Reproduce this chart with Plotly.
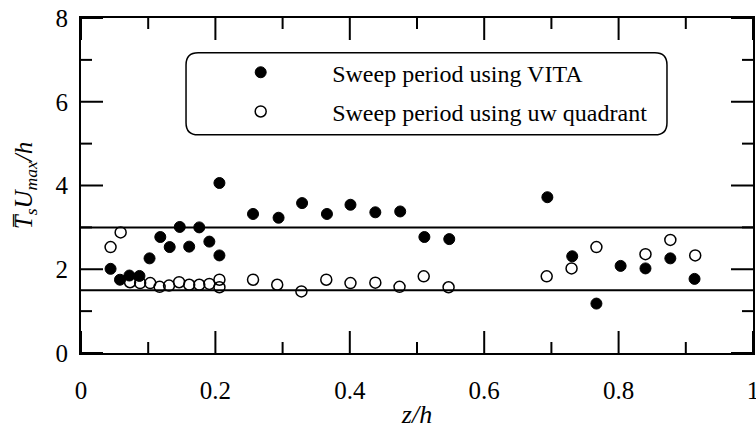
import plotly.graph_objects as go

# Sweep period using VITA (filled)
vita_x = [0.044, 0.058, 0.072, 0.087, 0.102, 0.118, 0.132, 0.147, 0.161, 0.176, 0.191, 0.206, 0.206,
          0.256, 0.294, 0.329, 0.366, 0.401, 0.438, 0.475, 0.511, 0.548, 0.694,
          0.731, 0.767, 0.803, 0.840, 0.877, 0.913]
vita_y = [2.01, 1.75, 1.85, 1.84, 2.26, 2.77, 2.53, 3.01, 2.54, 3.00, 2.66, 2.33, 4.06,
          3.32, 3.23, 3.58, 3.32, 3.54, 3.36, 3.38, 2.77, 2.72, 3.72,
          2.31, 1.18, 2.08, 2.02, 2.26, 1.77]

# Sweep period using uw quadrant (open)
uw_x = [0.044, 0.059, 0.073, 0.088, 0.103, 0.117, 0.131, 0.146, 0.161, 0.176, 0.191, 0.206, 0.206,
        0.256, 0.292, 0.328, 0.365, 0.401, 0.438, 0.474, 0.510, 0.547, 0.693,
        0.730, 0.767, 0.840, 0.877, 0.914]
uw_y = [2.53, 2.88, 1.69, 1.67, 1.67, 1.58, 1.61, 1.69, 1.63, 1.63, 1.65, 1.75, 1.57,
        1.75, 1.63, 1.47, 1.75, 1.67, 1.68, 1.58, 1.83, 1.57, 1.83,
        2.02, 2.53, 2.36, 2.70, 2.33]

ref_levels = [3.0, 1.5]
x_ticks = [0, 0.2, 0.4, 0.6, 0.8, 1]
x_tick_text = ["0", "0.2", "0.4", "0.6", "0.8", "1"]
x_minor_ticks = [0.1, 0.3, 0.5, 0.7, 0.9]
y_ticks = [0, 2, 4, 6, 8]
y_minor_ticks = [1, 3, 5, 7]

X_RANGE, Y_RANGE = [0, 1], [0, 8]
FONT = "'Liberation Serif', Tinos, 'Times New Roman', 'DejaVu Serif', serif"
PLOT_W, PLOT_H = 672, 335
MAJOR_LEN, MINOR_LEN = 22, 11

fig = go.Figure()
fig.add_trace(go.Scatter(
    x=vita_x, y=vita_y, mode="markers", name="Sweep period using VITA",
    legendgroup="a",
    marker=dict(symbol="circle", size=11, color="black", line=dict(color="black", width=1))))
fig.add_trace(go.Scatter(
    x=uw_x, y=uw_y, mode="markers", name="Sweep period using uw quadrant",
    legendgroup="b",
    marker=dict(symbol="circle-open", size=11, color="black", line=dict(color="black", width=1.5))))

for lv in ref_levels:
    fig.add_shape(type="line", xref="paper", x0=0, x1=1, yref="y", y0=lv, y1=lv,
                  line=dict(color="black", width=2))

# inside tick marks on all four sides, built from the tick value lists
tx, ty = [], []
for vals, ln in ((x_ticks, MAJOR_LEN), (x_minor_ticks, MINOR_LEN)):
    d = ln / PLOT_H * (Y_RANGE[1] - Y_RANGE[0])
    for v in vals:
        tx += [v, v, None, v, v, None]
        ty += [Y_RANGE[0], Y_RANGE[0] + d, None, Y_RANGE[1], Y_RANGE[1] - d, None]
for vals, ln in ((y_ticks, MAJOR_LEN), (y_minor_ticks, MINOR_LEN)):
    d = ln / PLOT_W * (X_RANGE[1] - X_RANGE[0])
    for v in vals:
        tx += [X_RANGE[0], X_RANGE[0] + d, None, X_RANGE[1], X_RANGE[1] - d, None]
        ty += [v, v, None, v, v, None]
fig.add_trace(go.Scatter(x=tx, y=ty, mode="lines", line=dict(color="black", width=2),
                         showlegend=False, hoverinfo="skip", connectgaps=False))

# rounded legend box (data coords)
x0, x1, y0, y1 = 0.1563, 0.8720, 5.21, 7.17
rx, ry = 0.018, 0.29
path = (f"M {x0+rx},{y1} L {x1-rx},{y1} Q {x1},{y1} {x1},{y1-ry} "
        f"L {x1},{y0+ry} Q {x1},{y0} {x1-rx},{y0} L {x0+rx},{y0} Q {x0},{y0} {x0},{y0+ry} "
        f"L {x0},{y1-ry} Q {x0},{y1} {x0+rx},{y1} Z")
fig.add_shape(type="path", path=path, xref="x", yref="y",
              line=dict(color="black", width=1.5), fillcolor="rgba(0,0,0,0)")

axis_common = dict(showgrid=False, zeroline=False, showline=True, linecolor="black", linewidth=2,
                   mirror=True, ticks="", automargin=False,
                   ticklabeloverflow="allow",
                   tickfont=dict(family=FONT, size=25, color="black"))

fig.update_layout(
    xaxis=dict(range=X_RANGE, tickmode="array", tickvals=x_ticks, ticktext=x_tick_text,
               ticklabelstandoff=14,
               title=dict(text="<i>z/h</i>", font=dict(family=FONT, size=26, color="black"), standoff=14),
               **axis_common),
    yaxis=dict(range=Y_RANGE, tickmode="array", tickvals=y_ticks,
               ticklabelstandoff=6,
               title=dict(text="<i>T\u0305<sub>s</sub>U<sub>max</sub>/h</i>",
                          font=dict(family=FONT, size=25, color="black"), standoff=16),
               **axis_common),
    width=756, height=429,
    margin=dict(l=81, r=3, t=18, b=76),
    paper_bgcolor="white", plot_bgcolor="white",
    font=dict(family=FONT, color="black"),
    showlegend=True,
    legend=dict(x=0.161, y=0.904, xanchor="left", yanchor="top",
                bgcolor="rgba(0,0,0,0)", borderwidth=0,
                font=dict(family=FONT, size=24, color="black"),
                itemwidth=133, tracegroupgap=5, traceorder="grouped"),
)

fig.write_html("out.html", config={"displayModeBar": False},
               post_script="document.body.style.margin='0';document.body.style.padding='0';")
